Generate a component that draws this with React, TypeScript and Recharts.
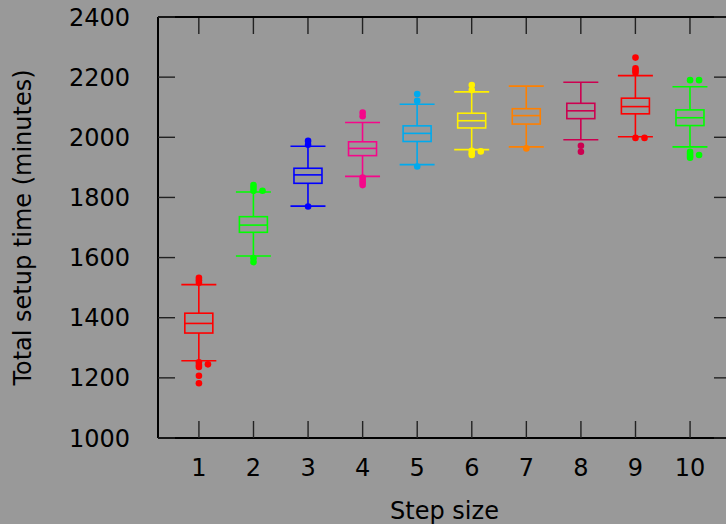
import { Bar, ComposedChart, Label, Scatter, XAxis, YAxis } from "recharts"

// Box plot summary per step size (minutes)
const steps = [1, 2, 3, 4, 5, 6, 7, 8, 9, 10]
const whiskerLow = [1257, 1605, 1771, 1870, 1909, 1959, 1968, 1992, 2002, 1968]
const lowerQuartile = [1349, 1684, 1847, 1939, 1986, 2031, 2044, 2062, 2078, 2039]
const medians = [1381, 1708, 1875, 1963, 2013, 2055, 2072, 2088, 2102, 2065]
const upperQuartile = [1415, 1736, 1897, 1985, 2038, 2080, 2095, 2113, 2130, 2091]
const whiskerHigh = [1510, 1818, 1970, 2049, 2110, 2151, 2170, 2183, 2205, 2168]

// outliers drawn on the box centre line
const outliers = [
  [1533, 1525, 1516, 1252, 1243, 1236, 1207, 1182],
  [1841, 1832, 1822, 1598, 1585],
  [1988, 1975, 1770],
  [2082, 2070, 1866, 1858, 1850, 1841],
  [2144, 2121, 1903],
  [2174, 2157, 1955, 1947, 1941],
  [1963],
  [1972, 1952],
  [2265, 2229, 2222, 2215, 1998],
  [2190, 1952, 1945, 1938, 1932],
]
// outliers that sit beside the centre line (ties)
const sideOutliers = [[1245], [1822], [], [], [], [1953], [], [], [1998], [2190, 1941]]

const colors = [
  "#ff0000",
  "#00ff00",
  "#0000ff",
  "#f5078a",
  "#00aaee",
  "#fff000",
  "#ff8000",
  "#cc0050",
  "#ff0000",
  "#00ff00",
]

const yTicks = [1000, 1200, 1400, 1600, 1800, 2000, 2200, 2400]

const boxData = steps.map((step, i) => ({
  step,
  lo: whiskerLow[i],
  q1: lowerQuartile[i],
  med: medians[i],
  q3: upperQuartile[i],
  hi: whiskerHigh[i],
  color: colors[i],
}))

const SIDE_SHIFT = 0.165
const CAP_W = 35
const BOX_W = 28
const Y_MAX = 2400
const TICK_LEN = 17

const outlierData = steps.flatMap((step, i) => [
  ...outliers[i].map((value) => ({ step, value, color: colors[i] })),
  ...sideOutliers[i].map((value) => ({ step: step + SIDE_SHIFT, value, color: colors[i] })),
])

function BoxShape(props: any) {
  const { x, y, width, height, payload } = props
  const top = Math.min(y, y + height)
  const span = Math.abs(height)
  const toPx = (v: number) => top + ((payload.hi - v) / (payload.hi - payload.lo)) * span
  const cx = x + width / 2
  const frameTop = toPx(Y_MAX)
  return (
    <g>
      {/* inward tick on the top edge of the frame above this step */}
      <line x1={cx} x2={cx} y1={frameTop} y2={frameTop + TICK_LEN} stroke="#222" strokeWidth={1.4} />
      <g stroke={payload.color} strokeWidth={1.6} fill="none">
        <line x1={cx - CAP_W / 2} x2={cx + CAP_W / 2} y1={toPx(payload.hi)} y2={toPx(payload.hi)} />
        <line x1={cx - CAP_W / 2} x2={cx + CAP_W / 2} y1={toPx(payload.lo)} y2={toPx(payload.lo)} />
        <line x1={cx} x2={cx} y1={toPx(payload.hi)} y2={toPx(payload.q3)} />
        <line x1={cx} x2={cx} y1={toPx(payload.q1)} y2={toPx(payload.lo)} />
        <rect x={cx - BOX_W / 2} y={toPx(payload.q3)} width={BOX_W} height={toPx(payload.q1) - toPx(payload.q3)} />
        <line x1={cx - BOX_W / 2} x2={cx + BOX_W / 2} y1={toPx(payload.med)} y2={toPx(payload.med)} />
      </g>
    </g>
  )
}

function OutlierDot(props: any) {
  const { cx, cy, payload } = props
  return <circle cx={cx} cy={cy} r={3.3} fill={payload.color} />
}

const NoDot = () => <g />
const NoTickLabel = () => <g />

export default function App() {
  return (
    <div
      style={{
        position: "absolute",
        left: 0,
        top: 0,
        width: 726,
        height: 524,
        overflow: "hidden",
        background: "#999999",
        fontFamily: "'DejaVu Sans', sans-serif",
      }}
    >
      <ComposedChart width={732} height={524} data={boxData} margin={{ top: 16, right: 0, bottom: 0, left: 0 }}>
        <XAxis
          dataKey="step"
          type="number"
          domain={[0.25, 10.75]}
          ticks={steps}
          interval={0}
          allowDataOverflow
          height={86}
          tickSize={-TICK_LEN}
          tickMargin={38}
          axisLine={{ stroke: "#000", strokeWidth: 2 }}
          tickLine={{ stroke: "#222", strokeWidth: 1.4 }}
          tick={{ fill: "#000", fontSize: 24 }}
        >
          <Label value="Step size" position="insideBottom" offset={5} fill="#000" fontSize={24} />
        </XAxis>
        <XAxis
          xAxisId="top"
          dataKey="step"
          orientation="top"
          type="number"
          domain={[0.25, 10.75]}
          ticks={steps}
          allowDataOverflow
          height={1}
          tickLine={false}
          tick={false}
          axisLine={{ stroke: "#000", strokeWidth: 2 }}
        />
        <YAxis
          type="number"
          domain={[1000, Y_MAX]}
          ticks={yTicks}
          interval={0}
          allowDataOverflow
          width={158}
          tickSize={-TICK_LEN}
          tickMargin={45}
          axisLine={{ stroke: "#000", strokeWidth: 2 }}
          tickLine={{ stroke: "#222", strokeWidth: 1.4 }}
          tick={{ fill: "#000", fontSize: 24 }}
        >
          <Label
            value="Total setup time (minutes)"
            position="insideLeft"
            angle={-90}
            offset={22}
            fill="#000"
            fontSize={24}
            style={{ textAnchor: "middle" }}
          />
        </YAxis>
        <YAxis
          yAxisId="right"
          orientation="right"
          type="number"
          domain={[1000, Y_MAX]}
          ticks={yTicks}
          interval={0}
          allowDataOverflow
          width={1}
          tickSize={-TICK_LEN}
          tick={NoTickLabel}
          axisLine={{ stroke: "#000", strokeWidth: 2 }}
          tickLine={{ stroke: "#222", strokeWidth: 1.4 }}
        />
        <Bar dataKey={(d: any) => [d.lo, d.hi]} shape={BoxShape} isAnimationActive={false} />
        <Scatter data={outlierData} dataKey="value" shape={OutlierDot} isAnimationActive={false} />
        {/* invisible series so the top and right frame axes get drawn */}
        <Scatter
          xAxisId="top"
          yAxisId="right"
          dataKey="med"
          shape={NoDot}
          legendType="none"
          isAnimationActive={false}
        />
      </ComposedChart>
    </div>
  )
}
